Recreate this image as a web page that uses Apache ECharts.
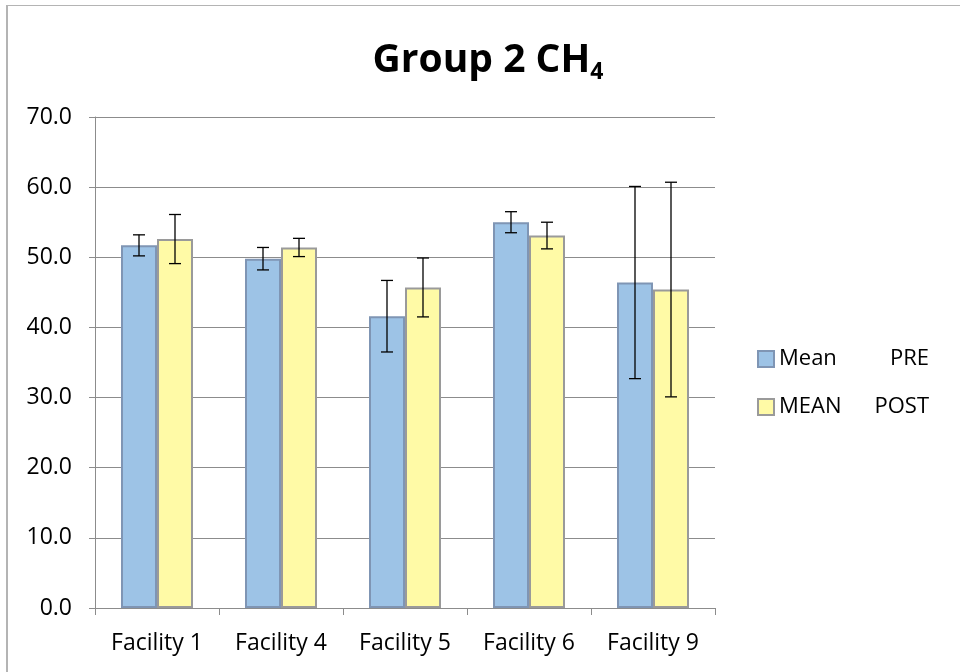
<!DOCTYPE html>
<html>
<head>
<meta charset="utf-8">
<script src="https://cdn.jsdelivr.net/npm/echarts@6/dist/echarts.min.js"></script>
<style>
  html, body { margin: 0; padding: 0; background: #fff; }
  #chart { position: absolute; left: 0; top: 0; width: 960px; height: 672px; }
  #frame { position: absolute; left: 6px; top: 5px; width: 960px; height: 672px;
           border-left: 2px solid #b4b4b4; border-top: 1px solid #b4b4b4; pointer-events: none; }
</style>
</head>
<body>
<div id="chart"></div>
<div id="frame"></div>
<script>
// values
const facilities = ["Facility 1", "Facility 4", "Facility 5", "Facility 6", "Facility 9"];
const meanPre = [51.7, 49.8, 41.6, 55.0, 46.4];
const errPre = [1.5, 1.6, 5.1, 1.5, 13.7];
const meanPost = [52.6, 51.4, 45.7, 53.1, 45.4];
const errPost = [3.5, 1.3, 4.2, 1.9, 15.3];
const yTicks = [0, 10, 20, 30, 40, 50, 60, 70];

const font = "'Open Sans', 'Liberation Sans', sans-serif";
const barW = 36;

function errData(means, errs) {
  return means.map((m, i) => [i, m - errs[i], m + errs[i]]);
}

// draw whisker with caps, shifted to the bar centre
function errRender(shift) {
  return function (params, api) {
    const x = api.coord([api.value(0), 0])[0] + shift;
    const lo = api.coord([api.value(0), api.value(1)])[1];
    const hi = api.coord([api.value(0), api.value(2)])[1];
    const cap = 6;
    const style = { stroke: "#000", lineWidth: 1.3 };
    return {
      type: "group",
      children: [
        { type: "line", shape: { x1: x, y1: lo, x2: x, y2: hi }, style: style },
        { type: "line", shape: { x1: x - cap, y1: lo, x2: x + cap, y2: lo }, style: style },
        { type: "line", shape: { x1: x - cap, y1: hi, x2: x + cap, y2: hi }, style: style }
      ]
    };
  };
}

const chart = echarts.init(document.getElementById("chart"));
chart.setOption({
  animation: false,
  textStyle: { fontFamily: font },
  title: {
    text: "{t|Group 2 CH}{s|4}",
    left: 483,
    textAlign: "center",
    top: 32,
    textStyle: {
      rich: {
        t: { fontFamily: font, fontSize: 39, fontWeight: "bold", color: "#000" },
        s: { fontFamily: font, fontSize: 23, fontWeight: "bold", color: "#000", padding: [24, 0, 0, 0] }
      }
    }
  },
  legend: {
    orient: "vertical",
    left: 752,
    top: 343,
    icon: "rect",
    itemWidth: 16,
    itemHeight: 16,
    itemGap: 26,
    data: ["pre", "post"],
    formatter: function (name) {
      return name === "pre" ? "{a|Mean}{b|PRE}" : "{a|MEAN}{b|POST}";
    },
    textStyle: {
      rich: {
        a: { fontFamily: font, fontSize: 22, color: "#000", width: 106 },
        b: { fontFamily: font, fontSize: 22, color: "#000", width: 44, align: "right" }
      }
    }
  },
  grid: { left: 95, right: 245, top: 117, bottom: 64 },
  xAxis: {
    type: "category",
    data: facilities,
    axisLine: { lineStyle: { color: "#8c8c8c", width: 1 } },
    axisTick: { show: true, length: 7, lineStyle: { color: "#8c8c8c" } },
    axisLabel: { color: "#000", fontSize: 23, fontFamily: font, margin: 24 }
  },
  yAxis: {
    type: "value",
    min: yTicks[0],
    max: yTicks[yTicks.length - 1],
    interval: 10,
    axisLine: { show: true, lineStyle: { color: "#8c8c8c", width: 1 } },
    axisTick: { show: true, length: 6, lineStyle: { color: "#8c8c8c" } },
    splitLine: { lineStyle: { color: "#8c8c8c", width: 1 } },
    axisLabel: {
      color: "#000",
      fontSize: 23,
      fontFamily: font,
      margin: 23,
      formatter: v => v.toFixed(1)
    }
  },
  series: [
    {
      name: "pre",
      type: "bar",
      barWidth: barW,
      barGap: "0%",
      data: meanPre,
      itemStyle: { color: "#9dc3e6", borderColor: "#7f95b4", borderWidth: 2 }
    },
    {
      name: "post",
      type: "bar",
      barWidth: barW,
      barGap: "0%",
      data: meanPost,
      itemStyle: { color: "#fffaa6", borderColor: "#9a9a9a", borderWidth: 2 }
    },
    {
      name: "preErr",
      type: "custom",
      renderItem: errRender(-barW / 2),
      encode: { x: 0, y: [1, 2] },
      data: errData(meanPre, errPre),
      z: 10
    },
    {
      name: "postErr",
      type: "custom",
      renderItem: errRender(barW / 2),
      encode: { x: 0, y: [1, 2] },
      data: errData(meanPost, errPost),
      z: 10
    }
  ]
});
</script>
</body>
</html>
